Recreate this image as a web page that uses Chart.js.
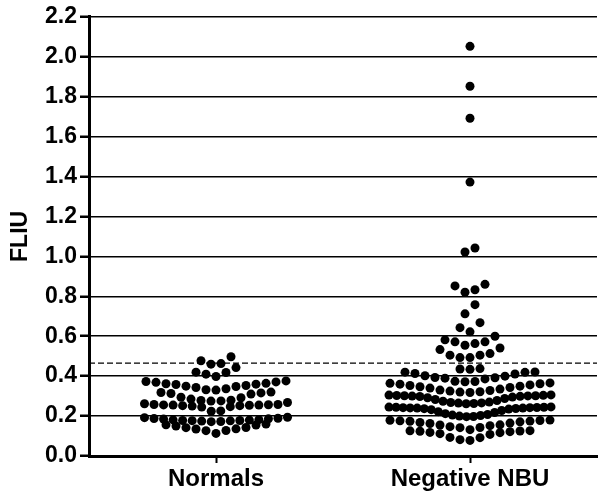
<!DOCTYPE html>
<html>
<head>
<meta charset="utf-8">
<script src="https://cdn.jsdelivr.net/npm/chart.js@4/dist/chart.umd.min.js"></script>
<style>
  html, body { margin: 0; padding: 0; background: #fff; }
  canvas { display: block; }
</style>
</head>
<body>
<canvas id="c" width="602" height="501"></canvas>
<script>
// ---------------- data ----------------
const categories = ['Normals', 'Negative NBU'];
const yTickLabels = ['0.0','0.2','0.4','0.6','0.8','1.0','1.2','1.4','1.6','1.8','2.0','2.2'];
const cutoff = 0.465;

const normalsValues = [
  0.113, 0.127, 0.128, 0.135, 0.136, 0.142, 0.143, 0.150, 0.155, 0.156, 0.160,
  0.172, 0.173, 0.175, 0.176, 0.177, 0.178, 0.178, 0.180, 0.181, 0.182, 0.185, 0.186, 0.188, 0.189, 0.192, 0.194,
  0.224, 0.226, 0.245, 0.247, 0.250, 0.252, 0.252, 0.254, 0.255, 0.255, 0.256, 0.257, 0.258, 0.258, 0.262, 0.268,
  0.275, 0.276, 0.278, 0.279, 0.285, 0.292, 0.294, 0.310, 0.313, 0.316, 0.318, 0.320,
  0.330, 0.332, 0.337, 0.343, 0.348, 0.350, 0.353, 0.358, 0.360, 0.362, 0.364, 0.369, 0.371, 0.373, 0.376,
  0.398, 0.410, 0.418, 0.420, 0.443,
  0.460, 0.463, 0.477, 0.497
];

const negativeNbuValues = [
  0.078, 0.082, 0.092, 0.093, 0.108, 0.112, 0.117, 0.118, 0.122, 0.124, 0.125, 0.126, 0.127,
  0.132, 0.142, 0.143, 0.147, 0.152, 0.155, 0.156, 0.163, 0.165, 0.168, 0.171, 0.174, 0.175, 0.176, 0.178, 0.179, 0.180,
  0.197, 0.198, 0.200, 0.203, 0.205, 0.208, 0.212, 0.218, 0.222, 0.228, 0.232, 0.235, 0.237, 0.238, 0.240, 0.240,
  0.241, 0.242, 0.242, 0.243, 0.244, 0.244, 0.245, 0.246,
  0.262, 0.263, 0.265, 0.266, 0.268, 0.270, 0.274, 0.278, 0.283, 0.288, 0.292, 0.295, 0.298, 0.299, 0.300, 0.301,
  0.302, 0.302, 0.303, 0.304, 0.305, 0.306,
  0.318, 0.320, 0.322, 0.325, 0.328, 0.330, 0.335, 0.340, 0.343, 0.347, 0.350, 0.353, 0.356, 0.360, 0.362, 0.364, 0.366,
  0.372, 0.373, 0.374, 0.386, 0.390, 0.392, 0.393, 0.400, 0.402, 0.411, 0.413, 0.419, 0.420, 0.421,
  0.434, 0.436, 0.438,
  0.493, 0.493, 0.505, 0.505, 0.513, 0.533, 0.541,
  0.555, 0.563, 0.572, 0.572, 0.582, 0.600,
  0.622, 0.643, 0.668,
  0.712, 0.758,
  0.820, 0.833, 0.852, 0.860,
  1.022, 1.042,
  1.372, 1.692, 1.852, 2.052
];

// ---------------- swarm layout (Prism-like rows) ----------------
const ROW_H = 0.05;      // value span of one row of dots
const DOT_STEP = 10;     // px between neighbouring dots in a row
const MAX_ROW_W = [143, 162]; // px, widest row per column

function swarm(values, center, maxW, pxPerUnit) {
  const sorted = values.slice().sort((a, b) => a - b);
  const pts = [];
  let i = 0;
  while (i < sorted.length) {
    const start = sorted[i];
    const row = [];
    while (i < sorted.length && sorted[i] - start < ROW_H - 1e-9) { row.push(sorted[i]); i++; }
    const n = row.length;
    const step = n > 1 ? Math.min(DOT_STEP, maxW / (n - 1)) : DOT_STEP;
    row.forEach((v, k) => {
      let off;
      if (n % 2 === 1) {
        off = k === 0 ? 0 : (k % 2 === 1 ? -Math.ceil(k / 2) : k / 2);
      } else {
        const m = Math.floor(k / 2) + 0.5;
        off = k % 2 === 0 ? -m : m;
      }
      pts.push({ x: center + off * step / pxPerUnit, y: v });
    });
  }
  return pts;
}

const FONT = 'Liberation Sans, Arial, Helvetica, sans-serif';
let ppu = 254;

const chart = new Chart(document.getElementById('c').getContext('2d'), {
  type: 'scatter',
  data: {
    datasets: [
      {
        label: 'cutoff', type: 'line',
        data: [{ x: -0.5, y: cutoff }, { x: 1.5, y: cutoff }],
        borderColor: '#000', borderWidth: 1.2, borderDash: [6, 3],
        pointRadius: 0, fill: false, order: 5
      },
      {
        label: categories[0],
        data: swarm(normalsValues, 0, MAX_ROW_W[0], ppu),
        backgroundColor: '#000', borderWidth: 0, pointRadius: 4.5, order: 1
      },
      {
        label: categories[1],
        data: swarm(negativeNbuValues, 1, MAX_ROW_W[1], ppu),
        backgroundColor: '#000', borderWidth: 0, pointRadius: 4.5, order: 1
      }
    ]
  },
  options: {
    responsive: false,
    animation: false,
    devicePixelRatio: 1,
    layout: { padding: { left: 0, right: 5, top: 15.2, bottom: 0 } },
    plugins: { legend: { display: false }, tooltip: { enabled: false } },
    scales: {
      x: {
        type: 'linear', min: -0.5, max: 1.5,
        afterBuildTicks: s => { s.ticks = [{ value: 0 }, { value: 1 }]; },
        afterFit: s => { s.height = 45; },
        ticks: {
          callback: v => categories[v],
          font: { family: FONT, size: 24, weight: 'bold' },
          color: '#000', padding: 2, maxRotation: 0, autoSkip: false
        },
        grid: { drawOnChartArea: false, drawTicks: true, tickLength: 7, tickWidth: 2, tickColor: '#000' },
        border: { color: '#000', width: 3 }
      },
      y: {
        min: 0, max: 2.2,
        afterFit: s => { s.width = 89; },
        ticks: {
          stepSize: 0.2,
          callback: (v, i) => yTickLabels[i],
          font: { family: FONT, size: 23, weight: 'bold' },
          color: '#000', padding: 3
        },
        grid: { color: '#000', lineWidth: 1.5, tickLength: 9, tickWidth: 2.5, tickColor: '#000' },
        border: { color: '#000', width: 3 },
        title: {
          display: true, text: 'FLIU', color: '#000',
          font: { family: FONT, size: 23, weight: 'bold' },
          padding: { top: 7, bottom: 0 }
        }
      }
    }
  }
});

// refine horizontal dot spacing with the real pixel scale
const xs = chart.scales.x;
ppu = (xs.right - xs.left) / 2;
chart.data.datasets[1].data = swarm(normalsValues, 0, MAX_ROW_W[0], ppu);
chart.data.datasets[2].data = swarm(negativeNbuValues, 1, MAX_ROW_W[1], ppu);
chart.update('none');
</script>
</body>
</html>
